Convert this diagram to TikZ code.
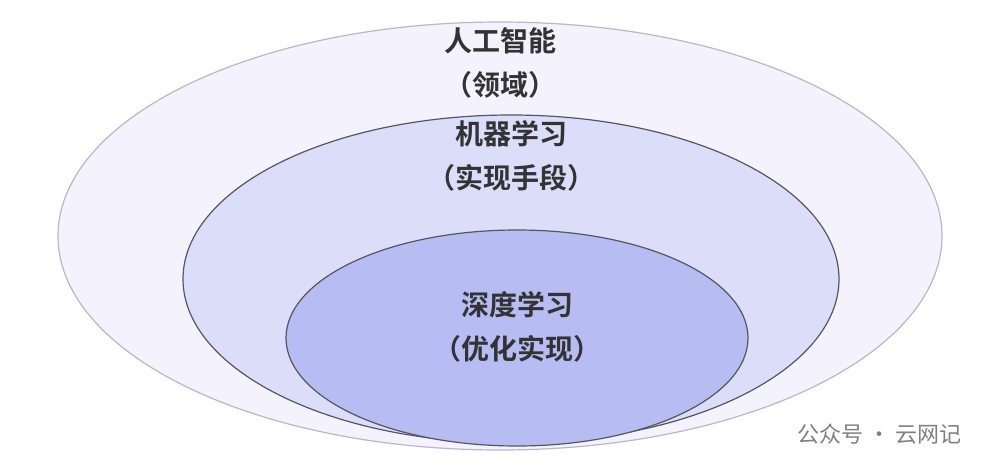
\documentclass[tikz,border=0pt]{standalone}
\usepackage{fontspec}
\newfontfamily\cjk{Noto Sans CJK SC}
\newfontfamily\cjkbold{Noto Sans CJK SC Bold}
\definecolor{outerfill}{HTML}{F3F2FD}
\definecolor{outerline}{HTML}{B8B8C8}
\definecolor{midfill}{HTML}{DCDDF8}
\definecolor{innerfill}{HTML}{B7BDF2}
\definecolor{ringline}{HTML}{55575F}
\definecolor{labeltext}{HTML}{333333}
\tikzset{
  ring/.style={draw=ringline, line width=1.2pt},
  ringlabel/.style={font=\cjkbold\fontsize{28}{44}\selectfont, text=labeltext, align=center},
  marktext/.style={font=\cjk\fontsize{22}{26}\selectfont, text=gray}
}
\begin{document}
\begin{tikzpicture}[x=1pt,y=-1pt]
  \useasboundingbox (0,0) rectangle (996,474);
  %Rings from outside in
  \fill[outerfill, draw=outerline, line width=1.2pt] (500,236) ellipse [x radius=442, y radius=214];
  \fill[midfill, ring] (511,279) ellipse [x radius=328, y radius=164];
  \fill[innerfill, ring] (517,338) ellipse [x radius=231, y radius=108];
  %Labels
  \node[ringlabel] (ai) at (500,63) {人工智能\\（领域）};
  \node[ringlabel] (ml) at (511,156) {机器学习\\（实现手段）};
  \node[ringlabel] (dl) at (517,327) {深度学习\\（优化实现）};
  %Watermark
  \node[marktext, anchor=east] (mark) at (965,434) {公众号 · 云网记};
\end{tikzpicture}
\end{document}
